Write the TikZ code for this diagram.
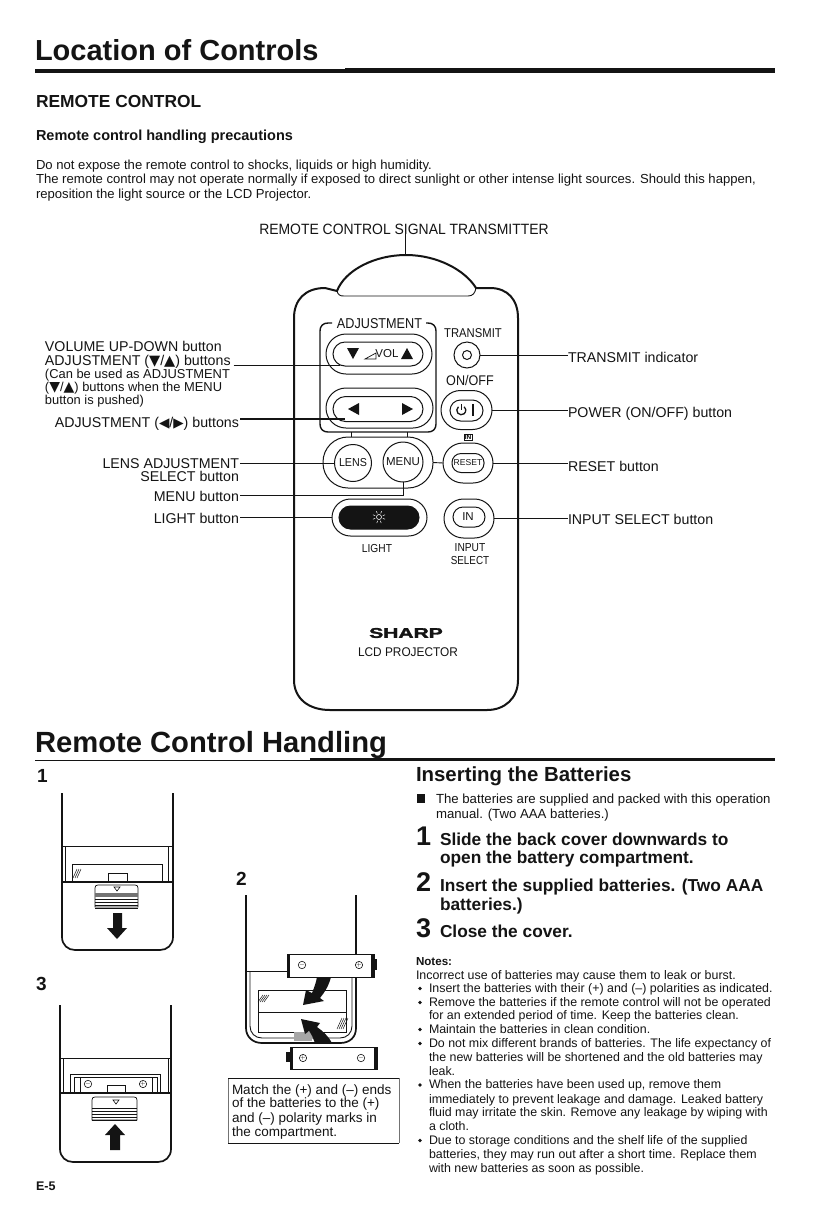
\documentclass[tikz,border=0pt]{standalone}
\usepackage{fontspec}
\setmainfont{Liberation Sans}
\newfontfamily\sym{DejaVu Sans}
\usetikzlibrary{arrows.meta}
\newcommand{\fs}[1]{\fontsize{#1}{#1}\selectfont}
\newcommand{\nar}[2]{\scalebox{#1}[1]{#2}}
\definecolor{ink}{gray}{0.08}
\tikzset{
  txt/.style={anchor=base west,inner sep=0pt,outer sep=0pt,text=ink},
  txtr/.style={anchor=base east,inner sep=0pt,outer sep=0pt,text=ink},
  txtc/.style={anchor=center,inner sep=0pt,outer sep=0pt,text=ink},
  label/.style={txt,font=\fs{14.2}},
  labelr/.style={txtr,font=\fs{14.2}},
  small/.style={txt,font=\fs{12.9}},
  body/.style={txt,font=\fs{13.1}},
  note/.style={txt,font=\fs{12.4}},
  stepnum/.style={txt,font=\bfseries\fs{27}},
  steptext/.style={txt,font=\bfseries\fs{17.3}},
  fig/.style={txt,font=\bfseries\fs{19}},
  ln/.style={draw=ink,line width=0.9pt},
  bold/.style={draw=ink,line width=1.7pt},
  btn/.style={draw=ink,line width=1pt,inner sep=0pt,outer sep=0pt,anchor=center},
  blt/.style={fill=ink,circle,inner sep=0pt,minimum size=3.6pt,anchor=center},
  arrowfill/.style={fill=ink,draw=none},
  hatch/.style={draw=ink,line width=0.5pt},
}
\begin{document}
\begin{tikzpicture}[x=1pt,y=-1pt]
\useasboundingbox (0,0) rectangle (840,1227);
\fill[white] (0,0) rectangle (840,1227);

% ---- headings
\node[txt,font=\bfseries\fs{29}] (title) at (35,60) {Location of Controls};
\fill[ink] (35,69) rectangle (345,72.5);
\fill[ink] (345,68) rectangle (775,72.5);
\node[txt,font=\bfseries\fs{17.4}] (rc) at (36,107) {REMOTE CONTROL};
\node[txt,font=\bfseries\fs{14.5}] (rch) at (36,140) {Remote control handling precautions};
\node[body] (b1) at (36,169) {Do not expose the remote control to shocks, liquids or high humidity.};
\node[body] (b2) at (36,183) {The remote control may not operate normally if exposed to direct sunlight or other intense light sources. Should this happen,};
\node[body] (b3) at (36,198) {reposition the light source or the LCD Projector.};

% ---- remote outline
\draw[bold,line width=2pt] (294,680) -- (294,318) .. controls (294,300) and (305,288) .. (325,288) -- (337,291)
  .. controls (345,270) and (375,255) .. (406,255) .. controls (437,255) and (465,270) .. (476,288)
  -- (490,288) .. controls (508,288) and (518,300) .. (518,318) -- (518,680)
  .. controls (518,698) and (505,710) .. (487,710) -- (330,710) .. controls (308,710) and (294,698) .. (294,680) -- cycle;
\draw[ln] (337,291) .. controls (338,295) and (340,296) .. (344,296) -- (468,296) .. controls (473,296) and (475,293) .. (476,288);

% adjustment bracket
\draw[draw=ink,line width=1.4pt] (332,323) -- (328,323) .. controls (323,323) and (320,326) .. (320,331) -- (320,424)
  .. controls (320,429) and (323,432) .. (328,432) -- (428,432) .. controls (433,432) and (436,429) .. (436,424) -- (436,331)
  .. controls (436,326) and (433,323) .. (428,323) -- (426,323);
\draw[ln] (351,432) -- (351,437);
\draw[ln] (407,432) -- (407,437);
\node[txtc,font=\fs{14.3}] (adj) at (379.5,324) {\nar{0.885}{ADJUSTMENT}};

% volume
\node[btn,minimum width=106pt,minimum height=40pt,rounded corners=20pt] (volO) at (379,354) {};
\node[btn,minimum width=90pt,minimum height=24pt,rounded corners=12pt] (volI) at (378,354) {};
\fill[ink] (347,348) -- (359,348) -- (353,359) -- cycle;
\fill[ink] (401,359) -- (413,359) -- (407,348) -- cycle;
\draw[ln,line width=0.7pt] (365,359) -- (376,359) -- (376,353) -- cycle;
\node[txtc,font=\fs{11.5}] (vol) at (387,354) {VOL};
% left-right
\node[btn,minimum width=107pt,minimum height=40pt,rounded corners=20pt] (lrO) at (379.5,408) {};
\node[btn,minimum width=90pt,minimum height=25pt,rounded corners=12.5pt] (lrI) at (378,409) {};
\fill[ink] (348,409) -- (359,403) -- (359,415) -- cycle;
\fill[ink] (413,409) -- (402,403) -- (402,415) -- cycle;
% lens/menu
\node[btn,minimum width=110pt,minimum height=51pt,rounded corners=25pt] (lmO) at (378,462.5) {};
\node[btn,circle,minimum size=37pt] (lens) at (353,463) {};
\node[btn,circle,minimum size=40pt] (menu) at (403,462) {};
\node[txtc,font=\fs{11.5}] (lensT) at (353,463) {\nar{0.93}{LENS}};
\node[txtc,font=\fs{11.5}] (menuT) at (403,462) {MENU};
% light
\node[btn,minimum width=95pt,minimum height=37pt,rounded corners=18.5pt] (lightO) at (379.5,517.5) {};
\node[btn,fill=ink,minimum width=80pt,minimum height=23pt,rounded corners=11.5pt] (lightI) at (379,517.5) {};
\draw[white,line width=0.6pt] (379,517) circle (2.5pt);
\foreach \a in {20,65,115,160,200,250,290,340} {\draw[white,line width=0.5pt] (379,517) ++(\a:4pt) -- ++(\a:2.5pt);}
\node[txtc,font=\fs{11.6}] (lightT) at (377,548) {\nar{0.88}{LIGHT}};
% transmit
\node[txtc,font=\fs{12.8}] (trT) at (473,333) {\nar{0.88}{TRANSMIT}};
\node[btn,circle,minimum size=26pt] (tr) at (467,355) {};
\node[btn,circle,minimum size=9pt] (trI) at (467,355) {};
\node[txtc,font=\fs{14}] (oo) at (470,380) {\nar{0.9}{ON/OFF}};
% power
\node[btn,minimum width=51pt,minimum height=39pt,rounded corners=19.5pt] (pwO) at (466.5,410) {};
\node[btn,minimum width=33pt,minimum height=21pt,rounded corners=10.5pt] (pwI) at (466.5,410.5) {};
\draw[draw=ink,line width=1.3pt] (458.4,406.8) arc[start angle=130,end angle=410,radius=4.5pt];
\draw[draw=ink,line width=1.3pt] (461.5,404) -- (461.5,410);
\draw[draw=ink,line width=1.3pt] (473,404) -- (473,416);
% reset
\node[draw=ink,line width=0.6pt,inner sep=0.6pt,font=\bfseries\fs{6.5}] (inbox) at (468,437) {IN};
\node[btn,minimum width=50pt,minimum height=40pt,rounded corners=20pt] (rsO) at (468,463) {};
\node[btn,minimum width=32pt,minimum height=19pt,rounded corners=9pt] (rsI) at (468,463) {};
\node[txtc,font=\fs{8.6}] (rsT) at (468,463) {RESET};
\draw[ln] (lmO.east) -- (rsO.west);
% input
\node[btn,minimum width=50pt,minimum height=39pt,rounded corners=19.5pt] (inO) at (469,518.5) {};
\node[btn,minimum width=32pt,minimum height=20pt,rounded corners=10pt] (inI) at (469,517) {};
\node[txtc,font=\fs{11.5}] (inT) at (468,517) {IN};
\node[txtc,font=\fs{11.6}] (inp1) at (470,548) {\nar{0.88}{INPUT}};
\node[txtc,font=\fs{11.6}] (inp2) at (470,560) {\nar{0.85}{SELECT}};
% brand
\node[txtc,font=\bfseries\fs{14}] (sharp) at (406,633) {\nar{1.5}{\addfontfeature{FakeBold=2}SHARP}};
\node[txtc,font=\fs{12.6}] (lcd) at (408,652) {\nar{0.94}{LCD PROJECTOR}};

% ---- labels, top
\node[txtc,font=\fs{14.9}] (sig) at (404,229) {\nar{0.935}{REMOTE CONTROL SIGNAL TRANSMITTER}};
\coordinate (domeTop) at (405,255);
\draw[ln] (sig.south -| domeTop) -- (domeTop);

% ---- labels, left
\node[label] (l1) at (45,351) {VOLUME UP-DOWN button};
\node[label] (l2) at (45,365) {ADJUSTMENT ({\sym\fs{14.5}▼}/{\sym\fs{14.5}▲}) buttons};
\node[small] (l3) at (45,378) {(Can be used as ADJUSTMENT};
\node[small] (l4) at (45,391) {({\sym\fs{14}▼}/{\sym\fs{14}▲}) buttons when the MENU};
\node[small] (l5) at (45,404) {button is pushed)};
\node[labelr] (l6) at (239,427) {ADJUSTMENT ({\sym\fs{13.5}◀}/{\sym\fs{13.5}▶}) buttons};
\node[labelr] (l7) at (239,468) {LENS ADJUSTMENT};
\node[labelr] (l8) at (239,481) {SELECT button};
\node[labelr] (l9) at (239,501) {MENU button};
\node[labelr] (l10) at (239,523) {LIGHT button};
\coordinate (cVol) at (340,365);
\coordinate (cLR) at (345,419);
\draw[ln] (cVol -| l2.east) ++(3,0) -- (cVol);
\draw[ln,line width=1.2pt] (cLR -| l6.east) ++(1,0) -- (cLR);
\draw[ln,line width=0.7pt] (lens.west -| l7.east) ++(1,0) -- (lens.west);
\coordinate (cMenu) at (menu.south);
\draw[ln] (l9.east |- 0,495) ++(1,0) -- (cMenu |- 0,495) -- (cMenu);
\draw[ln,line width=0.7pt] (lightO.west -| l10.east) ++(1,0) -- (lightO.west);

% ---- labels, right
\node[label] (r1) at (568,362) {TRANSMIT indicator};
\node[label] (r2) at (568,417) {POWER (ON/OFF) button};
\node[label] (r3) at (568,471) {RESET button};
\node[label] (r4) at (568,524) {INPUT SELECT button};
\draw[ln] (tr.east) -- (tr.east -| r1.west);
\draw[ln] (pwO.east) -- (pwO.east -| r2.west);
\draw[ln] (rsO.east) -- (rsO.east -| r3.west);
\draw[ln] (inO.east) -- (inO.east -| r4.west);

% ---- section 2
\node[txt,font=\bfseries\fs{29.2}] (sec2) at (35,752) {Remote Control Handling};
\fill[ink] (35,760) rectangle (310,761.3);
\fill[ink] (310,758) rectangle (775,761.3);
\node[fig] (n1) at (37,782) {1};
\node[fig] (n2) at (236,885) {2};
\node[fig] (n3) at (36,990) {3};
\node[txt,font=\bfseries\fs{12.5}] (e5) at (36,1190) {E-5};

% ---- figure 1
\draw[bold] (62,793) -- (62,937) .. controls (62,945) and (68,950) .. (75,950) -- (160,950) .. controls (167,950) and (173,945) .. (173,937) -- (173,793);
\draw[ln] (62,846) -- (173,846);
\draw[ln,line width=0.6pt] (65,846) -- (65,882);
\draw[ln,line width=0.6pt] (168,846) -- (168,882);
\draw[ln] (72,882) -- (72,864) -- (162,864) -- (162,882);
\draw[bold,line width=1.4pt] (62,882) -- (173,882);
\draw[ln] (108,882) -- (108,873) -- (127,873) -- (127,882);
\foreach \i in {0,2,4} {\draw[hatch] (73+\i,878) -- (77+\i,869);}
\draw[ln,line width=0.7pt] (95,907) -- (95,888) .. controls (95,886) and (96,885) .. (98,885) -- (135,885) .. controls (137,885) and (138,886) .. (138,888) -- (138,907) -- cycle;
\draw[ln,line width=0.6pt] (114,887) -- (120,887) -- (117,891) -- cycle;
\fill[black!55] (95,893) rectangle (138,897);
\foreach \y in {899,902,905,908} {\draw[ln,line width=0.7pt] (95,\y) -- (138,\y);}
\fill[arrowfill] (113,913) -- (122,913) -- (122,928) -- (127,928) -- (117,939) -- (107,928) -- (113,928) -- cycle;

% ---- figure 3
\draw[bold] (60,1005) -- (60,1149) .. controls (60,1157) and (66,1162) .. (73,1162) -- (158,1162) .. controls (165,1162) and (171,1157) .. (171,1149) -- (171,1005);
\draw[ln] (60,1058) -- (171,1058);
\draw[ln,line width=0.6pt] (63,1058) -- (63,1093);
\draw[ln,line width=0.6pt] (168,1058) -- (168,1093);
\draw[ln] (70,1093) -- (70,1074) -- (160,1074) -- (160,1093);
\draw[ln,line width=0.6pt] (74,1093) -- (74,1077) -- (157,1077) -- (157,1093);
\draw[ln,line width=0.6pt] (80,1077) -- (80,1093);
\draw[ln,line width=0.6pt] (152,1077) -- (152,1093);
\node[btn,circle,minimum size=7pt,line width=0.6pt,font=\fs{6}] (m3) at (88,1084) {$-$};
\node[btn,circle,minimum size=7pt,line width=0.6pt,font=\fs{6}] (p3) at (143,1084) {$+$};
\draw[bold,line width=1.4pt] (60,1093) -- (171,1093);
\draw[ln] (107,1093) -- (107,1085) -- (125,1085) -- (125,1093);
\draw[ln,line width=0.7pt] (92,1120) -- (92,1100) .. controls (92,1098) and (93,1097) .. (95,1097) -- (134,1097) .. controls (136,1097) and (137,1098) .. (137,1100) -- (137,1120) -- cycle;
\draw[ln,line width=0.6pt] (113,1100) -- (119,1100) -- (116,1104) -- cycle;
\foreach \y in {1108,1111,1114,1117,1120} {\draw[ln,line width=0.8pt] (92,\y) -- (137,\y);}
\fill[arrowfill] (115,1124) -- (125,1135) -- (120,1135) -- (120,1150) -- (110,1150) -- (110,1135) -- (105,1135) -- cycle;

% ---- figure 2
\draw[bold] (246,895) -- (246,1028) .. controls (246,1037) and (253,1043) .. (262,1043) -- (340,1043) .. controls (350,1043) and (356,1037) .. (356,1028) -- (356,895);
\draw[ln] (246,971) -- (287,971);
\draw[ln] (356,971) -- (374,971);
\draw[ln] (250,971) -- (250,1026) .. controls (250,1033) and (255,1038) .. (262,1038) -- (340,1038) .. controls (347,1038) and (352,1033) .. (352,1026) -- (352,971);
\draw[ln] (258,990) rectangle (346,1032);
\draw[ln] (258,1012) -- (346,1012);
\fill[black!35] (294,1032) rectangle (312,1041);
\foreach \i in {0,2,4,6} {\draw[hatch] (258+\i,1002) -- (263+\i,995);}
\foreach \i in {0,2,4,6} {\draw[hatch] (337+\i,1029) -- (342+\i,1018);}
\node[draw=ink,line width=1pt,fill=white,minimum width=87pt,minimum height=23pt,inner sep=0pt,anchor=center] (batT) at (330.5,965.5) {};
\fill[ink] (287,954) rectangle (290,977);
\fill[ink] (371,954) rectangle (374,977);
\fill[ink] (374,959) rectangle (377,970);
\node[btn,circle,minimum size=7pt,line width=0.6pt,font=\fs{6}] (m2a) at (302,965) {$-$};
\node[btn,circle,minimum size=7pt,line width=0.6pt,font=\fs{6}] (p2a) at (359,965) {$+$};
\node[draw=ink,line width=1pt,fill=white,minimum width=87pt,minimum height=22pt,inner sep=0pt,anchor=center] (batB) at (333.5,1058) {};
\fill[ink] (290,1047) rectangle (293,1069);
\fill[ink] (374,1047) rectangle (377,1069);
\fill[ink] (286,1052) rectangle (290,1062);
\node[btn,circle,minimum size=7pt,line width=0.6pt,font=\fs{6}] (p2b) at (303,1058) {$+$};
\node[btn,circle,minimum size=7pt,line width=0.6pt,font=\fs{6}] (m2b) at (361,1058) {$-$};
\fill[arrowfill] (303,1005) -- (306,990) -- (312,993) .. controls (314,988) and (316,983) .. (317,977) -- (331,977) .. controls (329,985) and (325,992) .. (320,998) -- (324,1001) -- cycle;
\fill[arrowfill] (301,1019) -- (320,1023) -- (317,1027) .. controls (323,1031) and (329,1037) .. (332,1043) -- (315,1043) .. controls (313,1038) and (311,1033) .. (309,1031) -- (305,1034) -- cycle;

% caption box
\draw[draw=black!55,line width=0.6pt] (228,1078) -- (228,1143);
\draw[draw=black!55,line width=0.6pt] (399,1078) -- (399,1143);
\draw[ln] (228,1078) -- (399,1078);
\draw[ln] (228,1143) -- (399,1143);
\node[small,font=\fs{13.5}] (c1) at (232,1094) {Match the (+) and (–) ends};
\node[small,font=\fs{13.5}] (c2) at (232,1107) {of the batteries to the (+)};
\node[small,font=\fs{13.5}] (c3) at (232,1122) {and (–) polarity marks in};
\node[small,font=\fs{13.5}] (c4) at (232,1136) {the compartment.};

% ---- right column
\node[txt,font=\bfseries\fs{20.4}] (ib) at (416,781) {Inserting the Batteries};
\fill[ink] (417,794) rectangle (425,803);
\node[body,font=\fs{13.2}] (i1) at (436,803) {The batteries are supplied and packed with this operation};
\node[body,font=\fs{13.2}] (i2) at (436,818) {manual. (Two AAA batteries.)};
\node[stepnum] (s1) at (416,845) {1};
\node[steptext] (s1a) at (440,845) {Slide the back cover downwards to};
\node[steptext] (s1b) at (440,863) {open the battery compartment.};
\node[stepnum] (s2) at (416,891) {2};
\node[steptext] (s2a) at (440,891) {Insert the supplied batteries. (Two AAA};
\node[steptext] (s2b) at (440,910) {batteries.)};
\node[stepnum] (s3) at (416,937) {3};
\node[steptext] (s3a) at (440,937) {Close the cover.};

\node[note,font=\bfseries\fs{11.6}] (nt) at (416,965) {Notes:};
\node[note] (n01) at (416,979) {Incorrect use of batteries may cause them to leak or burst.};
\node[blt] (bu1) at (420,988.5) {};
\node[note] (n02) at (429,992) {Insert the batteries with their (+) and (–) polarities as indicated.};
\node[blt] (bu2) at (420,1002.5) {};
\node[note] (n03) at (429,1006) {Remove the batteries if the remote control will not be operated};
\node[note] (n04) at (429,1019) {for an extended period of time. Keep the batteries clean.};
\node[blt] (bu3) at (420,1029.5) {};
\node[note] (n05) at (429,1033) {Maintain the batteries in clean condition.};
\node[blt] (bu4) at (420,1043.5) {};
\node[note] (n06) at (429,1047) {Do not mix different brands of batteries. The life expectancy of};
\node[note] (n07) at (429,1061) {the new batteries will be shortened and the old batteries may};
\node[note] (n08) at (429,1075) {leak.};
\node[blt] (bu5) at (420,1085) {};
\node[note] (n09) at (429,1088) {When the batteries have been used up, remove them};
\node[note] (n10) at (429,1103) {immediately to prevent leakage and damage. Leaked battery};
\node[note] (n11) at (429,1116) {fluid may irritate the skin. Remove any leakage by wiping with};
\node[note] (n12) at (429,1130) {a cloth.};
\node[blt] (bu6) at (420,1140.5) {};
\node[note] (n13) at (429,1144) {Due to storage conditions and the shelf life of the supplied};
\node[note] (n14) at (429,1158) {batteries, they may run out after a short time. Replace them};
\node[note] (n15) at (429,1172) {with new batteries as soon as possible.};
\end{tikzpicture}
\end{document}
